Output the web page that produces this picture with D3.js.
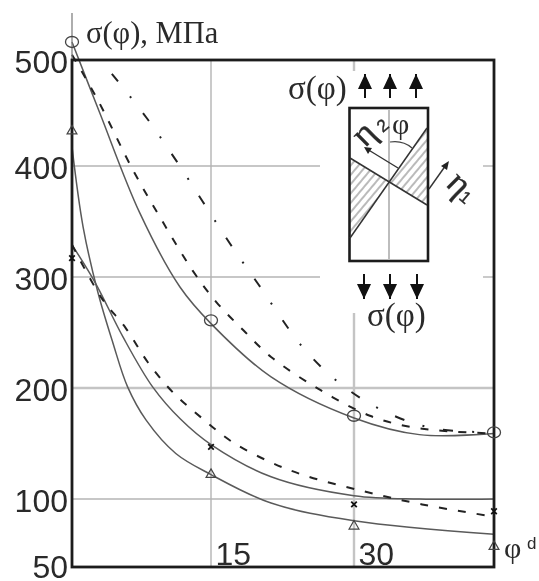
<!DOCTYPE html>
<html><head><meta charset="utf-8">
<script src="https://cdn.jsdelivr.net/npm/d3@7/dist/d3.min.js"></script>
<style>html,body{margin:0;padding:0;background:#fff}svg{display:block;filter:blur(0.5px)}</style>
</head><body><svg id="c" width="539" height="581"></svg>
<script>
const yTicks=[50,100,200,300,400,500];
const xTicks=[15,30];
const solidA=[[0,517],[3,450],[7.3,358],[11.65,291],[15,258],[21.3,210],[30,173],[37,158],[45,159]];
const dashB=[[0,505],[2.8,462],[6.6,396],[9.7,351],[13,306],[15.6,277],[18.4,252],[21.3,228],[26.5,198],[31.7,175],[36,165],[40.2,161],[45,159]];
const dashDotC=[[4.3,487],[8,446],[11.1,407],[14.1,368],[17,330],[20,293],[24.6,237],[28.4,205],[33,180],[38.3,164],[45,160]];
const solidD=[[0,418],[1.2,345],[2.8,286],[4.4,241],[6,201],[8,171],[11.2,141],[15,122],[21.3,97],[30,84],[45,74]];
const solidE=[[0,329],[2.5,295],[5.5,246],[8.7,201],[11.7,172],[15,149],[21.3,120],[30,103],[37,100],[45,100]];
const dashF=[[0,329],[3.2,281],[5.8,254],[8.2,223],[10.9,196],[14,173],[17.3,151],[21.3,133],[24.9,121],[31,107],[37.3,96],[45,87]];
const circles=[[0,517],[15,261],[30,175],[45,160]];
const crosses=[[0,317],[15,147],[30,96],[45,91]];
const triangles=[[0,433],[15,122],[30,80],[45,65]];

const svg=d3.select("#c");
const x=d3.scaleLinear().domain([0,15,30,45]).range([72,211,354,494]);
const y=d3.scaleLinear().domain(yTicks).range([567,499,388,277,166,60]);
const ink="#1c1c1c",grid="#b4b4b4",curve="#5a5a5a";
const sans="'Liberation Sans',Arial,sans-serif",serif="'Liberation Serif','Times New Roman',serif";

// grid (interrupted around the inset)
const gap=[320,483];
[[400,1.4],[300,1.4]].forEach(([v,w])=>{
  [[72,gap[0]],[gap[1],494]].forEach(s=>svg.append("line").attr("x1",s[0]).attr("x2",s[1]).attr("y1",y(v)).attr("y2",y(v)).attr("stroke",grid).attr("stroke-width",w));
});
svg.append("line").attr("x1",72).attr("x2",494).attr("y1",y(200)).attr("y2",y(200)).attr("stroke","#c4c4c4").attr("stroke-width",2.4);
svg.append("line").attr("x1",72).attr("x2",494).attr("y1",y(100)).attr("y2",y(100)).attr("stroke",grid).attr("stroke-width",1.3);
svg.append("line").attr("x1",x(15)).attr("x2",x(15)).attr("y1",y(500)).attr("y2",y(50)).attr("stroke",grid).attr("stroke-width",1.4);
[[60,71],[313,567]].forEach(s=>svg.append("line").attr("x1",x(30)).attr("x2",x(30)).attr("y1",s[0]).attr("y2",s[1]).attr("stroke","#c4c4c4").attr("stroke-width",2.4));

// curves
const line=d3.line().x(d=>x(d[0])).y(d=>y(d[1])).curve(d3.curveCatmullRom.alpha(0.5));
const curves=[[solidA,null,1.5],[dashB,"8 11",2],[dashDotC,"10 19 2 19",2],[solidD,null,1.5],[solidE,null,1.5],[dashF,"8 11",2]];
curves.forEach(([d,dash,w])=>svg.append("path").attr("d",line(d)).attr("fill","none")
  .attr("stroke",dash?"#222":curve).attr("stroke-width",w).attr("stroke-dasharray",dash));

// y axis extension + frame
svg.append("line").attr("x1",72).attr("x2",72).attr("y1",13).attr("y2",60).attr("stroke","#777").attr("stroke-width",1.2);
svg.append("rect").attr("x",72).attr("y",60).attr("width",422).attr("height",507).attr("fill","none").attr("stroke",ink).attr("stroke-width",2.8);

// axes
const ya=svg.append("g").attr("transform","translate(68,0)").call(d3.axisLeft(y).tickValues(yTicks).tickSize(0).tickPadding(0));
ya.select(".domain").remove();
ya.selectAll("text").attr("font-family",sans).attr("font-size",32).attr("fill","#2a2a2a").attr("dy","0.37em").attr("transform",d=>d==50?"translate(0,-1)":"translate(0,1)");
const xa=svg.append("g").attr("transform","translate(0,565)").call(d3.axisTop(x).tickValues(xTicks).tickSize(0).tickPadding(0));
xa.select(".domain").remove();
xa.selectAll("text").attr("font-family",sans).attr("font-size",32).attr("fill","#2a2a2a").attr("dy",0).attr("text-anchor","start").attr("dx",4);

// markers
svg.selectAll(".circ").data(circles).join("ellipse").attr("cx",d=>x(d[0])).attr("cy",d=>y(d[1]))
  .attr("rx",6.5).attr("ry",5.5).attr("fill","none").attr("stroke","#444").attr("stroke-width",1.3);
const tri=d3.symbol().type(d3.symbolTriangle).size(42);
svg.selectAll(".tri").data(triangles).join("path").attr("d",tri)
  .attr("transform",d=>`translate(${x(d[0])},${y(d[1])})`).attr("fill","none").attr("stroke","#444").attr("stroke-width",1.2);
const cross=d3.symbol().type(d3.symbolX).size(22);
svg.selectAll(".x").data(crosses).join("path").attr("d",cross)
  .attr("transform",d=>`translate(${x(d[0])},${y(d[1])})`).attr("fill","none").attr("stroke","#111").attr("stroke-width",1.8);

// labels
const label=(s,px,py,size,fam,extra)=>{const t=svg.append("text").attr("x",px).attr("y",py).attr("font-size",size).attr("font-family",fam).attr("fill","#2a2a2a").text(s);if(extra)extra(t);return t;};
label("σ(φ), МПа",86,43,30.5,serif);
label("σ(φ)",288,99,33,serif);
label("σ(φ)",367,326,33,serif);
label("φ",504,558,30,serif);
label("d",527,549,17,sans);

// inset
svg.append("defs").html(`<pattern id="h" width="6" height="6" patternUnits="userSpaceOnUse" patternTransform="rotate(-50)"><line x1="0" y1="3" x2="6" y2="3" stroke="#666" stroke-width="0.9"/></pattern>`);
svg.append("path").attr("d","M389,182L427,128L427,205Z M389,182L350,158L350,238Z").attr("fill","url(#h)");
svg.append("rect").attr("x",349.5).attr("y",108).attr("width",78.5).attr("height",153).attr("fill","none").attr("stroke",ink).attr("stroke-width",2.6);
svg.append("line").attr("x1",389).attr("x2",389).attr("y1",109).attr("y2",260).attr("stroke","#bdbdbd").attr("stroke-width",2);
[[350,158,427,205],[350,238,427,128]].forEach(a=>svg.append("line").attr("x1",a[0]).attr("y1",a[1]).attr("x2",a[2]).attr("y2",a[3]).attr("stroke","#333").attr("stroke-width",1.5));
const arrow=(px,y0,y1)=>{const dir=y1<y0?1:-1;
  svg.append("line").attr("x1",px).attr("x2",px).attr("y1",y0).attr("y2",y1).attr("stroke","#111").attr("stroke-width",2);
  svg.append("path").attr("d",`M${px},${y1}L${px-7},${y1+dir*15}L${px+7},${y1+dir*15}Z`).attr("fill","#111");};
[365,390,416].forEach(p=>{arrow(p,98,74);});
[364,390,417].forEach(p=>{arrow(p,274,299);});
// normals
svg.append("line").attr("x1",398).attr("y1",168).attr("x2",367).attr("y2",149).attr("stroke","#333").attr("stroke-width",1.4);
svg.append("path").attr("d","M364,147L372,148L368,154Z").attr("fill","#222");
svg.append("line").attr("x1",429).attr("y1",189).attr("x2",446).attr("y2",165).attr("stroke","#333").attr("stroke-width",1.4);
svg.append("path").attr("d","M449,161L447,170L441,166Z").attr("fill","#222");
svg.append("path").attr("d","M390,142Q403,140 412,148").attr("fill","none").attr("stroke","#444").attr("stroke-width",1.2);
label("φ",392,134,30,serif);
const rot=(s,cx,cy,ang,size,fam)=>label(s,0,size*0.22,size,fam,t=>t.attr("text-anchor","middle").attr("stroke","#2a2a2a").attr("stroke-width",0.4).attr("transform",`translate(${cx},${cy}) rotate(${ang})`));
rot("η",366,136,-45,36,serif);
rot("2",384,127,-40,17,sans);
rot("η",457,186,45,36,serif);
rot("1",464,199,40,17,sans);
</script></body></html>
